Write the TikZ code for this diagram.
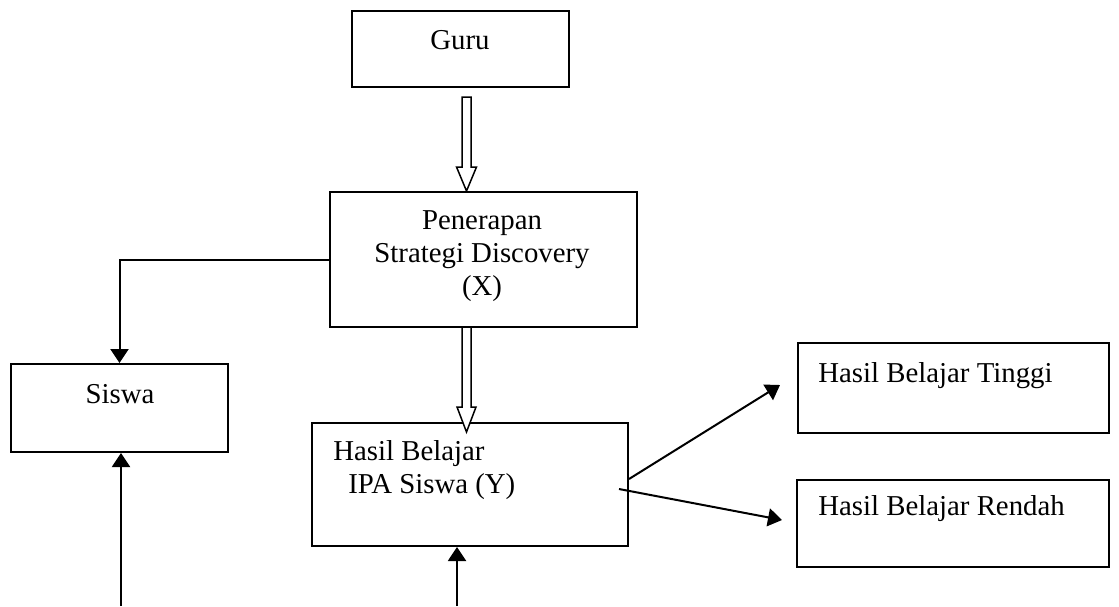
\documentclass[tikz,border=0pt]{standalone}
\usepackage{fontspec}
\setmainfont{Liberation Serif}
\usetikzlibrary{arrows.meta}
\tikzset{
    mybox/.style = {rectangle, draw=black, line width=1pt, inner sep=0pt},
    mytext/.style = {inner sep=0pt, align=center, font=\fontsize{14.4}{16.5}\selectfont, text=black},
    mytextl/.style = {inner sep=0pt, align=left, font=\fontsize{14.4}{16.75}\selectfont, text=black},
    edgen/.style = {-{Triangle[length=7pt,width=9pt]}, line width=1pt, black},
    edgeh/.style = {line width=0.75pt, draw=black, fill=white, line join=miter}, % hollow
}

\begin{document}
\begin{tikzpicture}[x=0.5pt,y=-0.5pt]
\path[use as bounding box] (0,0) rectangle (1119,606);
%
\node[mybox, minimum width=108.5pt, minimum height=38pt] at (460.5,49) (guru) {};
\node[mytext, anchor=base] at (460,49) (guru-t) {Guru};
\node[mybox, minimum width=153.5pt, minimum height=67.5pt] at (483.5,259.5) (pen) {};
\node[mytext] at (482,256) (pen-t) {Penerapan\\Strategi Discovery\\(X)};
\node[mybox, minimum width=108.5pt, minimum height=44pt] at (119.5,408) (siswa) {};
\node[mytext, anchor=base] at (120,403) (siswa-t) {Siswa};
\node[mybox, minimum width=158pt, minimum height=61.5pt] at (470,484.5) (ipa) {};
\node[mytextl, anchor=west] at (333,470) (ipa-t) {Hasil Belajar\\\hspace*{7.5pt}IPA Siswa (Y)};
\node[mybox, minimum width=155.5pt, minimum height=45pt] at (953.5,388) (tinggi) {};
\node[mytext, anchor=base west] at (818,382) (tinggi-t) {Hasil Belajar Tinggi};
\node[mybox, minimum width=156pt, minimum height=43.5pt] at (953,523.5) (rendah) {};
\node[mytext, anchor=base west] at (818,515) (rendah-t) {Hasil Belajar Rendah};
%
\coordinate (h1) at (466.5,97);
\coordinate (h2) at (466.5,327);
\coordinate (s0) at (121,606);
\coordinate (y0) at (457,606);
\coordinate (t1) at (780,385);
\coordinate (r0) at (619,489);
\coordinate (r1) at (782,520);
%
\draw[edgeh] (h1) ++(-4.5,0) -- ++(0,70) -- ++(-5.5,0) -- ++(10,24) -- ++(10,-24) -- ++(-5.5,0) -- ++(0,-70) -- cycle;
\draw[edgeh] (h2) ++(-4.5,0) -- ++(0,80) -- ++(-5,0) -- ++(9.5,25) -- ++(9.5,-25) -- ++(-5,0) -- ++(0,-80) -- cycle;
\draw[edgen] (pen.west) -| (siswa.north);
\draw[edgen] (s0) -- (s0 |- siswa.south);
\draw[edgen] (y0) -- (y0 |- ipa.south);
\draw[edgen] ([yshift=2.75pt]ipa.east) -- (t1);
\draw[edgen] (r0) -- (r1);
\end{tikzpicture}
\end{document}
